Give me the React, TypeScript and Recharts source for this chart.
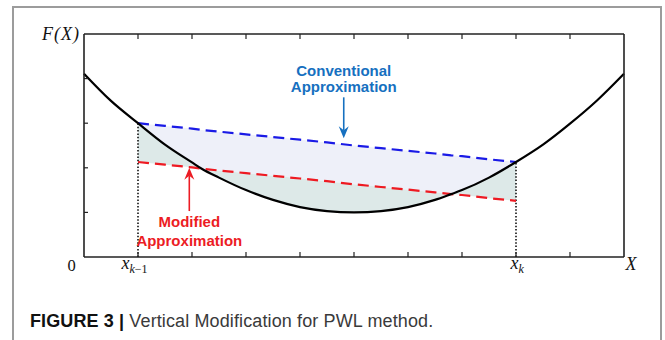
import React from 'react';
import { ComposedChart, Area, Line, XAxis, YAxis, ReferenceLine } from 'recharts';

// sample points along X (includes the two points where the curve meets the modified line)
const xs = [0, 0.5, 1, 1.5, 2, 2.18, 2.5, 3, 3.5, 4, 4.5, 5, 5.5, 6, 6.5, 6.8, 7, 7.5, 8, 8.5, 9, 9.5, 10];
const curveF = [4.11, 3.5, 3.0, 2.52, 2.12, 1.98, 1.78, 1.5, 1.28, 1.12, 1.03, 1.0, 1.03, 1.12, 1.28, 1.41, 1.5, 1.78, 2.13, 2.52, 2.99, 3.51, 4.11];
const conventional = [null, null, 3.0, 2.94, 2.88, 2.85, 2.81, 2.75, 2.69, 2.63, 2.57, 2.5, 2.44, 2.38, 2.32, 2.28, 2.26, 2.19, 2.13, null, null, null, null];
const modified = [null, null, 2.13, 2.07, 2.01, 1.98, 1.94, 1.88, 1.82, 1.76, 1.7, 1.63, 1.57, 1.51, 1.45, 1.41, 1.39, 1.32, 1.26, null, null, null, null];

// x_{k-1} and x_k
const segmentStart = { x: 1, f: 3.0 };
const segmentEnd = { x: 8, f: 2.13 };

const xTicks = [0, 1, 2, 3, 4, 5, 6, 7, 8, 9, 10];
const yTicks = [1, 2, 3, 4, 5];
const bottomLabelAt = [0, 1, 8, 10];
const bottomLabelMain = ['0', 'x', 'x', 'X'];
const bottomLabelSub = ['', 'k−1', 'k', ''];

const conventionalNote = ['Conventional', 'Approximation'];
const conventionalArrow = [{ x: 4.81, y: 3.58 }, { x: 4.81, y: 2.66 }];
const modifiedNote = ['Modified', 'Approximation'];
const modifiedArrow = [{ x: 1.95, y: 1.03 }, { x: 1.95, y: 2.0 }];

const FRAME = '#222';
const SERIF = '"Liberation Serif", "DejaVu Serif", serif';
const SANS = '"Liberation Sans", Arial, sans-serif';

const rows = xs.map((x, i) => {
  const c = curveF[i];
  const b = conventional[i];
  const m = modified[i];
  return {
    x,
    curve: c,
    conventional: b,
    modified: m,
    green: m === null ? null : [Math.min(c, m), Math.max(c, m)],
    lavender: m === null || b === null ? null : [Math.max(c, m), b],
  };
});

function BottomTick(props: any) {
  const { x, y, payload } = props;
  const v = payload.value;
  const idx = bottomLabelAt.indexOf(v);
  let label = null;
  if (idx === 0) {
    label = (
      <text x={x - 12.5} y={y + 13.5} textAnchor="middle" fontFamily={SERIF} fontSize={16.5} fill="#111">
        {bottomLabelMain[idx]}
      </text>
    );
  } else if (idx === 3) {
    label = (
      <text x={x + 7} y={y + 13} textAnchor="middle" fontFamily={SERIF} fontStyle="italic" fontSize={18} fill="#111">
        {bottomLabelMain[idx]}
      </text>
    );
  } else if (idx > 0) {
    const sub = bottomLabelSub[idx];
    label = (
      <text x={idx === 1 ? x - 16.5 : x - 5.5} y={y + 11.5} fontFamily={SERIF} fill="#111">
        <tspan fontStyle="italic" fontSize={18}>{bottomLabelMain[idx]}</tspan>
        <tspan fontStyle="italic" fontSize={12} dy={4}>{sub.charAt(0)}</tspan>
        {sub.length > 1 && <tspan fontSize={12}>{sub.slice(1)}</tspan>}
      </text>
    );
  }
  return (
    <g>
      {v > 0 && v < 10 && <line x1={x} y1={y} x2={x} y2={y - 5} stroke={FRAME} strokeWidth={1.2} />}
      {label}
    </g>
  );
}

function TopTick(props: any) {
  const { x, y, payload } = props;
  const v = payload.value;
  if (v <= 0 || v >= 10) return <g />;
  return <line x1={x} y1={y} x2={x} y2={y + 5} stroke={FRAME} strokeWidth={1.2} />;
}

function LeftTick(props: any) {
  const { x, y, payload } = props;
  if (payload.value === 5) {
    return (
      <text x={x - 4} y={y + 5.5} textAnchor="end" fontFamily={SERIF} fontStyle="italic" fontSize={18} letterSpacing={1} fill="#111">
        F(X)
      </text>
    );
  }
  return <line x1={x} y1={y} x2={x + 4} y2={y} stroke={FRAME} strokeWidth={1.2} />;
}

function RightTick(props: any) {
  const { x, y } = props;
  return <line x1={x} y1={y} x2={x - 4} y2={y} stroke={FRAME} strokeWidth={1.2} />;
}

function arrowShape(color: string, lines: string[]) {
  return (p: any) => {
    const { x1, y1, x2, y2 } = p;
    const down = y2 > y1;
    const dir = down ? 1 : -1;
    const headLen = 12;
    const notch = 8;
    const half = 5;
    const textLines = down ? [y1 - 21, y1 - 5] : [y1 + 16, y1 + 35];
    return (
      <g>
        <line x1={x1} y1={y1} x2={x2} y2={y2 - dir * notch} stroke={color} strokeWidth={1.6} />
        <path
          d={`M${x2},${y2} L${x2 - half},${y2 - dir * headLen} L${x2},${y2 - dir * notch} L${x2 + half},${y2 - dir * headLen} Z`}
          fill={color}
        />
        {lines.map((t, i) => (
          <text key={t} x={x1} y={textLines[i]} textAnchor="middle" fontFamily={SANS} fontWeight="bold" fontSize={15} fill={color}>
            {t}
          </text>
        ))}
      </g>
    );
  };
}

export default function App() {
  return (
    <div style={{ position: 'absolute', left: 0, top: 0, width: 665, height: 340, background: '#fff', overflow: 'hidden' }}>
      <div style={{ position: 'absolute', left: 0, top: 0 }}>
        <ComposedChart width={665} height={300} data={rows} margin={{ top: 33, right: 40, bottom: 42, left: 83 }}>
          <XAxis
            dataKey="x"
            type="number"
            domain={[0, 10]}
            ticks={xTicks}
            interval={0}
            height={1}
            tickSize={0}
            tickMargin={0}
            tickLine={false}
            tick={<BottomTick />}
            axisLine={{ stroke: FRAME, strokeWidth: 1.6 }}
          />
          <XAxis
            xAxisId="top"
            orientation="top"
            dataKey="x"
            type="number"
            domain={[0, 10]}
            ticks={xTicks}
            interval={0}
            height={1}
            tickSize={0}
            tickMargin={0}
            tickLine={false}
            tick={<TopTick />}
            axisLine={{ stroke: FRAME, strokeWidth: 1.6 }}
          />
          <YAxis
            type="number"
            domain={[0, 5]}
            ticks={yTicks}
            interval={0}
            width={1}
            tickSize={0}
            tickMargin={0}
            tickLine={false}
            tick={<LeftTick />}
            axisLine={{ stroke: FRAME, strokeWidth: 1.6 }}
          />
          <YAxis
            yAxisId="right"
            orientation="right"
            type="number"
            domain={[0, 5]}
            ticks={yTicks.slice(0, 4)}
            interval={0}
            width={1}
            tickSize={0}
            tickMargin={0}
            tickLine={false}
            tick={<RightTick />}
            axisLine={{ stroke: FRAME, strokeWidth: 1.6 }}
          />
          <Area dataKey="lavender" type="monotone" stroke="none" fill="#eef0f9" fillOpacity={1} isAnimationActive={false} />
          <Area dataKey="green" type="monotone" stroke="none" fill="#dde9e8" fillOpacity={1} isAnimationActive={false} />
          <ReferenceLine
            segment={[{ x: segmentStart.x, y: 0 }, { x: segmentStart.x, y: segmentStart.f }]}
            stroke="#111"
            strokeWidth={1.6}
            strokeDasharray="1.5 1.8"
          />
          <ReferenceLine
            segment={[{ x: segmentEnd.x, y: 0 }, { x: segmentEnd.x, y: segmentEnd.f }]}
            stroke="#111"
            strokeWidth={1.6}
            strokeDasharray="1.5 1.8"
          />
          <Line dataKey="conventional" type="linear" stroke="#1a1ae6" strokeWidth={2.2} strokeDasharray="11 6" dot={false} activeDot={false} isAnimationActive={false} />
          <Line dataKey="modified" type="linear" stroke="#ee1a22" strokeWidth={2.2} strokeDasharray="11 6" dot={false} activeDot={false} isAnimationActive={false} />
          <Line dataKey="curve" type="monotone" stroke="#000" strokeWidth={2.2} dot={false} activeDot={false} isAnimationActive={false} />
          <ReferenceLine segment={conventionalArrow} shape={arrowShape('#1670c0', conventionalNote)} />
          <ReferenceLine segment={modifiedArrow} shape={arrowShape('#ec1c24', modifiedNote)} />
        </ComposedChart>
      </div>
      <div
        style={{
          position: 'absolute',
          left: 12,
          top: 6,
          width: 650,
          height: 360,
          boxSizing: 'border-box',
          borderLeft: '2px solid #9c9c9c',
          borderTop: '2px solid #9c9c9c',
          borderRight: '2px solid #9c9c9c',
          pointerEvents: 'none',
          zIndex: 2,
        }}
      />
      <div
        style={{
          position: 'absolute',
          left: 30,
          top: 311.5,
          fontFamily: SANS,
          fontSize: 18,
          lineHeight: '18px',
          letterSpacing: 0.12,
          whiteSpace: 'nowrap',
          color: '#3a3a3a',
        }}
      >
        <span style={{ fontWeight: 'bold', color: '#111' }}>FIGURE 3 |</span> Vertical Modification for PWL method.
      </div>
    </div>
  );
}
